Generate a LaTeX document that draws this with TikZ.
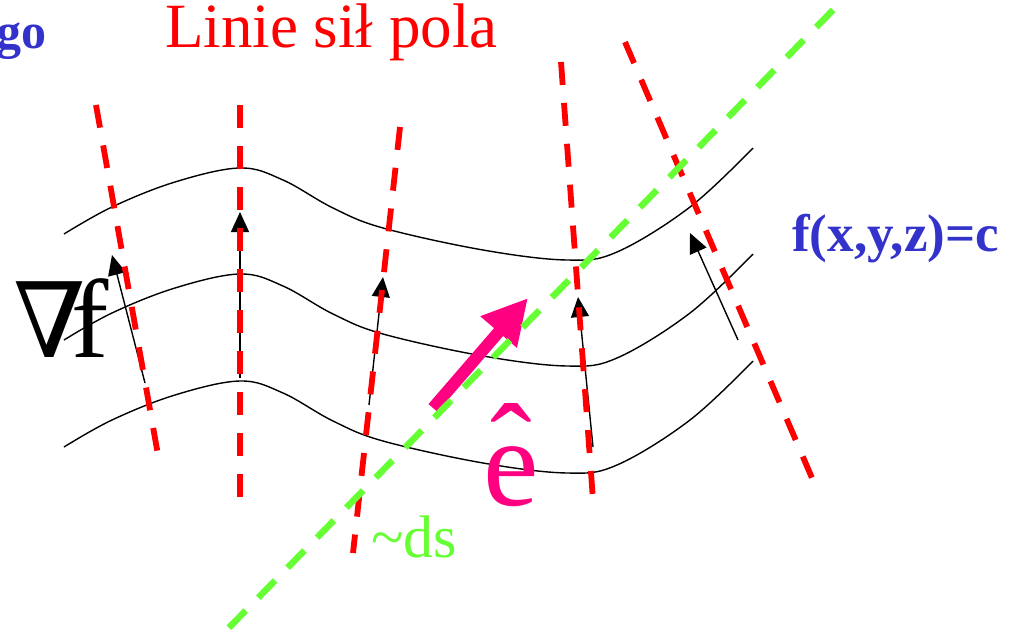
\documentclass[tikz,border=0pt]{standalone}
\usepackage{fontspec}
\setmainfont{Liberation Serif}
\newfontfamily\dvs{DejaVu Serif}
\usetikzlibrary{arrows.meta}
\definecolor{fieldred}{RGB}{255,0,0}
\definecolor{limegreen2}{RGB}{102,255,51}
\definecolor{hotmag}{RGB}{255,0,128}
\definecolor{textblue}{RGB}{51,51,204}
\begin{document}
\begin{tikzpicture}[x=1pt,y=-1pt,
  level/.style={draw=black, line width=1.4pt},
  fieldline/.style={draw=fieldred, line width=5.8pt, dash pattern=on 23pt off 18pt},
  dsline/.style={draw=limegreen2, line width=6.5pt, dash pattern=on 24pt off 18pt},
  gradarrow/.style={draw=black, line width=1.4pt, -{Triangle[length=20pt,width=18pt]}},
  evec/.style={draw=hotmag, line width=12pt, -{Triangle[length=45pt,width=45pt]}},
  lbl/.style={anchor=base west, inner sep=0pt},
]
\useasboundingbox (0,0) rectangle (1020,637);

% level surfaces f(x,y,z)=c
\foreach \d in {0,106,213}{
  \draw[level, shift={(0,\d)}] plot[smooth, tension=0.6] coordinates
    {(64,234) (112,207) (175,182) (240,168) (283,180) (333,208) (383,228)
     (483,250) (567,260) (617,252) (690,207) (753,148)};
}

% gradient arrows
\coordinate (a1s) at (145,383); \coordinate (a1e) at (112,255);
\coordinate (a2s) at (240,378); \coordinate (a2e) at (240,212);
\coordinate (a3s) at (369,405); \coordinate (a3e) at (383,277);
\coordinate (a4s) at (593,447); \coordinate (a4e) at (578,297);
\coordinate (a5s) at (738,340); \coordinate (a5e) at (690,233);
\draw[gradarrow] (a1s) -- (a1e);
\draw[gradarrow] (a2s) -- (a2e);
\draw[gradarrow] (a3s) -- (a3e);
\draw[gradarrow] (a4s) -- (a4e);
\draw[gradarrow] (a5s) -- (a5e);

% field lines
\coordinate (r1a) at (96,105);  \coordinate (r1b) at (158,455);
\coordinate (r2a) at (240,105); \coordinate (r2b) at (240,502);
\coordinate (r3a) at (400,127); \coordinate (r3b) at (353,553);
\coordinate (r4a) at (561,62);  \coordinate (r4b) at (593,500);
\coordinate (r5a) at (625,42);  \coordinate (r5b) at (815,485);
\draw[fieldline] (r1a) -- (r1b);
\draw[fieldline] (r2a) -- (r2b);
\draw[fieldline] (r3a) -- (r3b);
\draw[fieldline] (r4a) -- (r4b);
\draw[fieldline] (r5a) -- (r5b);

% unit vector e
\coordinate (es) at (433,408); \coordinate (ee) at (528,298);
\draw[evec] (es) -- (ee);

% ds direction
\coordinate (g1) at (833,10); \coordinate (g2) at (212,645);
\draw[dsline] (g1) -- (g2);

% labels
\node[lbl, text=textblue, font=\bfseries\fontsize{50}{50}\selectfont] (go) at (-4,48) {go};
\node[lbl, text=fieldred, font=\fontsize{63}{63}\selectfont] (title) at (165,47) {Linie sił pola};
\node[lbl, text=textblue, font=\bfseries\fontsize{53}{53}\selectfont] (fxyz) at (792,251) {f(x,y,z)=c};
\node[lbl, text=black, font=\fontsize{112}{112}\selectfont] (grad) at (13,357)
  {{\dvs\fontsize{104}{104}\selectfont ∇}\kern-14pt f};
\node[lbl, text=hotmag, font=\fontsize{125}{125}\selectfont] (ehat) at (483,505)
  {\rlap{\raisebox{15pt}{\hspace{7pt}\char"02C6}}e};
\node[lbl, text=limegreen2, font=\fontsize{60}{60}\selectfont] (ds) at (371,557) {\textasciitilde ds};
\end{tikzpicture}
\end{document}
